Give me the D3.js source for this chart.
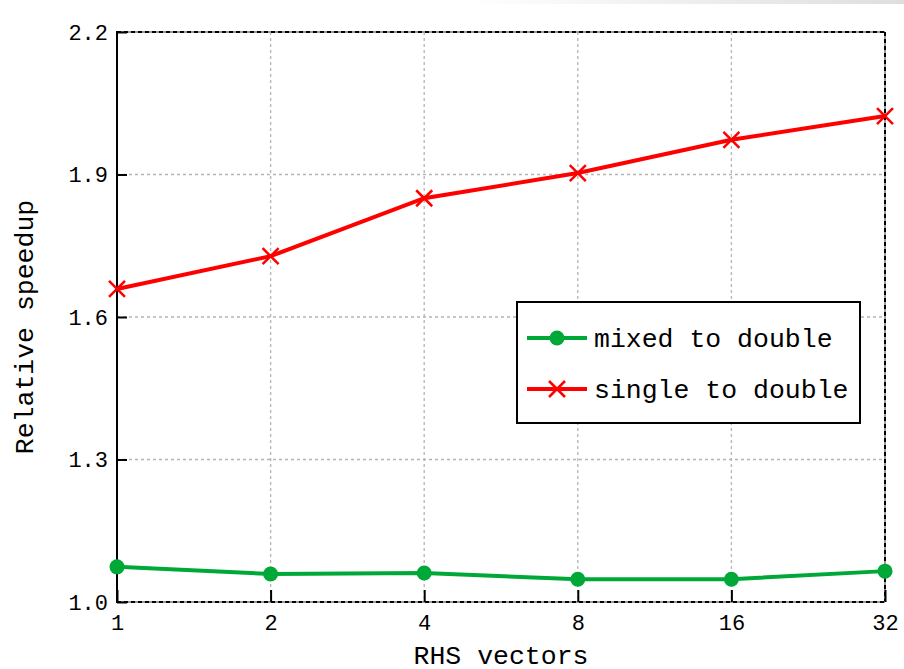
<!DOCTYPE html>
<html>
<head>
<meta charset="utf-8">
<script src="https://cdn.jsdelivr.net/npm/d3@7"></script>
<style>
  body { margin: 0; background: #fff; }
  text { font-family: "Liberation Mono", "DejaVu Sans Mono", monospace; fill: #000; }
</style>
</head>
<body>
<svg width="904" height="669"></svg>
<script>
// RHS vector counts (x axis, log2)
const rhs = [1, 2, 4, 8, 16, 32];
const mixedToDouble = [1.074, 1.059, 1.061, 1.048, 1.048, 1.065];
const singleToDouble = [1.659, 1.728, 1.850, 1.903, 1.973, 2.023];
const yTicks = [1.0, 1.3, 1.6, 1.9, 2.2];
const seriesNames = ['mixed to double', 'single to double'];

const svg = d3.select('svg');
const pLeft = 117, pRight = 885, pTop = 32, pBottom = 602;

// faint gradient strip at the top edge
const grad = svg.append('defs').append('linearGradient').attr('id', 'strip');
grad.append('stop').attr('offset', '0%').attr('stop-color', '#ffffff');
grad.append('stop').attr('offset', '100%').attr('stop-color', '#dedede');
svg.append('rect').attr('x', 465).attr('y', 0).attr('width', 439).attr('height', 4)
  .attr('fill', 'url(#strip)');

const x = d3.scaleLog().base(2).domain([1, 32]).range([pLeft, pRight]);
const y = d3.scaleLinear().domain([1.0, 2.2]).range([pBottom, pTop]);

// grid
const grid = svg.append('g');
grid.selectAll('.gx').data(rhs).enter().append('line')
  .attr('x1', d => x(d)).attr('x2', d => x(d))
  .attr('y1', pTop).attr('y2', pBottom)
  .attr('stroke', '#b4b4b4').attr('stroke-width', 1.3).attr('stroke-dasharray', '3,3');
grid.selectAll('.gy').data(yTicks).enter().append('line')
  .attr('x1', pLeft).attr('x2', pRight)
  .attr('y1', d => y(d)).attr('y2', d => y(d))
  .attr('stroke', '#b4b4b4').attr('stroke-width', 1.3).attr('stroke-dasharray', '3,3');

// frame: top/right/bottom dashed black over gray, left solid
const frame = svg.append('g');
[[pLeft, pTop, pRight, pTop], [pRight, pTop, pRight, pBottom], [pLeft, pBottom, pRight, pBottom]].forEach(s => {
  frame.append('line').attr('x1', s[0]).attr('y1', s[1]).attr('x2', s[2]).attr('y2', s[3])
    .attr('stroke', '#9a9a9a').attr('stroke-width', 2);
  frame.append('line').attr('x1', s[0]).attr('y1', s[1]).attr('x2', s[2]).attr('y2', s[3])
    .attr('stroke', '#000').attr('stroke-width', 2).attr('stroke-dasharray', '4,3');
});
frame.append('line').attr('x1', pLeft).attr('y1', pTop - 1).attr('x2', pLeft).attr('y2', pBottom + 1)
  .attr('stroke', '#000').attr('stroke-width', 2);

// axes with inward ticks
const xAxis = svg.append('g')
  .attr('transform', `translate(0,${pBottom})`)
  .call(d3.axisBottom(x).tickValues(rhs).tickFormat(d3.format('d')).tickSizeInner(-12).tickSizeOuter(0));
xAxis.select('.domain').remove();
xAxis.selectAll('line').attr('stroke', '#000').attr('stroke-width', 2);
xAxis.selectAll('text').attr('font-size', '22px').attr('dy', '0.71em').attr('y', 12);

const yAxis = svg.append('g')
  .attr('transform', `translate(${pLeft},0)`)
  .call(d3.axisLeft(y).tickValues(yTicks).tickFormat(d3.format('.1f')).tickSizeInner(-10).tickSizeOuter(0));
yAxis.select('.domain').remove();
yAxis.selectAll('line').attr('stroke', '#000').attr('stroke-width', 2);
yAxis.selectAll('text').attr('font-size', '22px').attr('x', -9);

// titles
svg.append('text').attr('x', (pLeft + pRight) / 2).attr('y', 664)
  .attr('text-anchor', 'middle').attr('font-size', '26.5px').text('RHS vectors');
svg.append('text').attr('transform', 'translate(33,327) rotate(-90)')
  .attr('text-anchor', 'middle').attr('font-size', '26.5px').text('Relative speedup');

const line = d3.line().x((d, i) => x(rhs[i])).y(d => y(d));

// mixed
svg.append('path').datum(mixedToDouble).attr('d', line)
  .attr('fill', 'none').attr('stroke', '#00a838').attr('stroke-width', 4);
svg.selectAll('.dot').data(mixedToDouble).enter().append('circle')
  .attr('cx', (d, i) => x(rhs[i])).attr('cy', d => y(d)).attr('r', 7.5)
  .attr('fill', '#00a838');

// single
svg.append('path').datum(singleToDouble).attr('d', line)
  .attr('fill', 'none').attr('stroke', '#ff0000').attr('stroke-width', 4);
const cross = (g, cx, cy, s) => {
  g.append('path')
    .attr('d', `M${cx - s},${cy - s}L${cx + s},${cy + s}M${cx - s},${cy + s}L${cx + s},${cy - s}`)
    .attr('stroke', '#ff0000').attr('stroke-width', 2.5).attr('fill', 'none');
};
const crosses = svg.append('g');
singleToDouble.forEach((d, i) => cross(crosses, x(rhs[i]), y(d), 8));

// legend
const lg = svg.append('g');
lg.append('rect').attr('x', 517).attr('y', 302).attr('width', 343).attr('height', 121)
  .attr('fill', '#fff').attr('stroke', '#000').attr('stroke-width', 2);
const lgY = [338, 389];
lg.append('line').attr('x1', 527).attr('x2', 587).attr('y1', lgY[0]).attr('y2', lgY[0])
  .attr('stroke', '#00a838').attr('stroke-width', 4);
lg.append('circle').attr('cx', 557).attr('cy', lgY[0]).attr('r', 7.5).attr('fill', '#00a838');
lg.append('line').attr('x1', 527).attr('x2', 587).attr('y1', lgY[1]).attr('y2', lgY[1])
  .attr('stroke', '#ff0000').attr('stroke-width', 4);
cross(lg, 557, lgY[1], 8);
seriesNames.forEach((n, i) => {
  lg.append('text').attr('x', 594).attr('y', lgY[i]).attr('dy', '0.35em')
    .attr('font-size', '26.5px').text(n);
});
</script>
</body>
</html>
